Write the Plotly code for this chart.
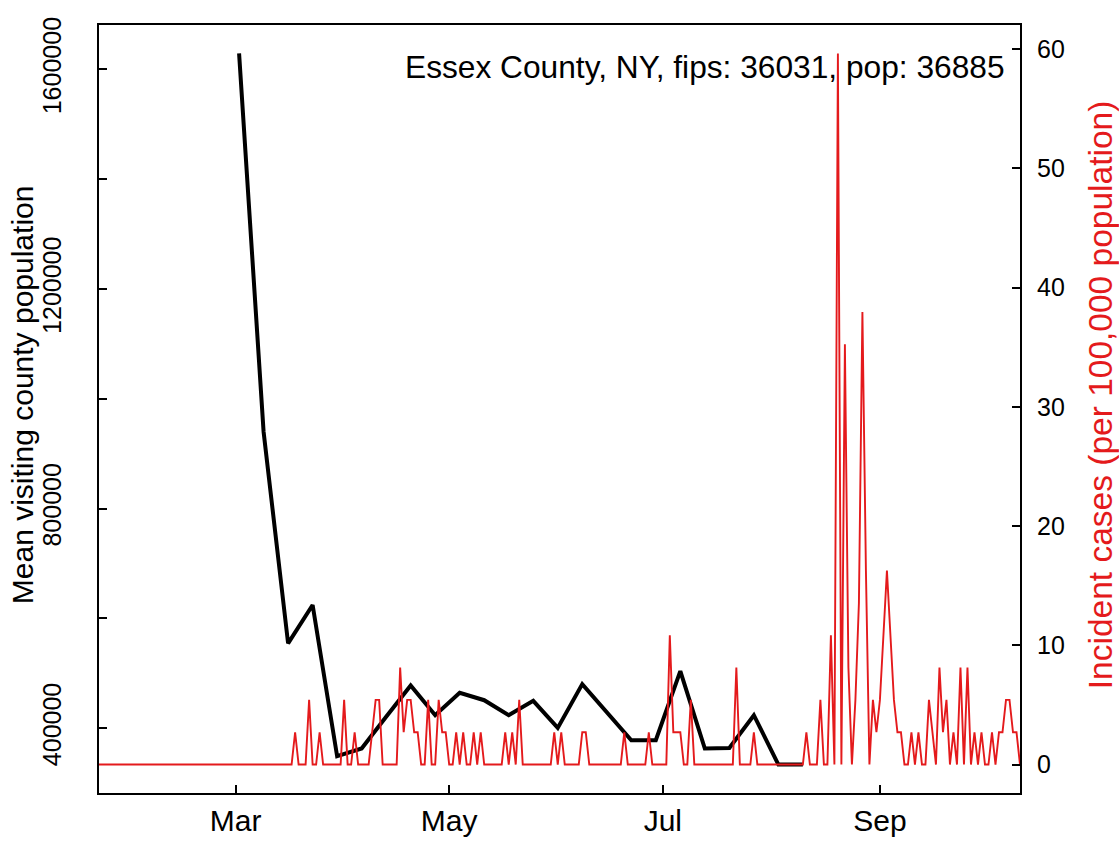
import plotly.graph_objects as go
import pandas as pd

# ---------------- data ----------------
county_label = "Essex County, NY, fips: 36031, pop: 36885"
population = 36885

# weekly mean visiting county population (black line)
week_dates = ["2020-03-02", "2020-03-09", "2020-03-16", "2020-03-23", "2020-03-30",
              "2020-04-06", "2020-04-13", "2020-04-20", "2020-04-27", "2020-05-04",
              "2020-05-11", "2020-05-18", "2020-05-25", "2020-06-01", "2020-06-08",
              "2020-06-15", "2020-06-22", "2020-06-29", "2020-07-06", "2020-07-13",
              "2020-07-20", "2020-07-27", "2020-08-03", "2020-08-10"]
mean_visiting_pop = [1629000, 940000, 554500, 624400, 348900,
                     363000, 421000, 477900, 423700, 464400,
                     451000, 423700, 449800, 400500, 480300,
                     429700, 378100, 378100, 504000, 363000,
                     364100, 423700, 333800, 333800]

# daily incident case counts (red line), 2020-01-22 .. 2020-10-11
cases_start = "2020-01-22"
cases_jan = [0, 0, 0, 0, 0, 0, 0, 0, 0, 0]
cases_feb = [0, 0, 0, 0, 0, 0, 0, 0, 0, 0, 0, 0, 0, 0, 0, 0, 0, 0, 0, 0,
             0, 0, 0, 0, 0, 0, 0, 0, 0]
cases_mar = [0, 0, 0, 0, 0, 0, 0, 0, 0, 0, 0, 0, 0, 0, 0, 0, 0, 1, 0, 0,
             0, 2, 0, 0, 1, 0, 0, 0, 0, 0, 0]
cases_apr = [2, 0, 0, 1, 0, 0, 0, 0, 1, 2, 2, 0, 0, 0, 0, 0, 3, 1, 2, 2,
             1, 1, 0, 0, 2, 0, 0, 2, 1, 1]
cases_may = [0, 0, 1, 0, 1, 0, 0, 1, 0, 1, 0, 0, 0, 0, 0, 0, 1, 0, 1, 0,
             2, 0, 0, 0, 0, 0, 0, 0, 0, 0, 1]
cases_jun = [0, 1, 0, 0, 0, 0, 0, 1, 1, 0, 0, 0, 0, 0, 0, 0, 0, 0, 0, 1,
             0, 0, 0, 0, 0, 0, 1, 0, 0, 0]
cases_jul = [0, 0, 4, 1, 1, 1, 0, 0, 2, 0, 0, 0, 0, 0, 0, 0, 0, 0, 0, 0,
             0, 3, 0, 0, 0, 0, 1, 0, 0, 0, 0]
cases_aug = [0, 0, 0, 0, 0, 0, 0, 0, 0, 0, 1, 0, 0, 0, 2, 0, 0, 4, 0, 22,
             0, 13, 3, 0, 2, 5, 14, 6, 0, 2, 1]
cases_sep = [2, 4, 6, 4, 2, 1, 1, 0, 0, 1, 0, 1, 0, 0, 2, 1, 0, 3, 1, 2,
             0, 1, 0, 3, 0, 3, 0, 1, 0, 1]
cases_oct = [0, 0, 1, 0, 1, 1, 2, 2, 1, 1, 0]

# axis ticks
x_tick_dates = ["2020-03-01", "2020-05-01", "2020-07-01", "2020-09-01"]
x_tick_labels = ["Mar", "May", "Jul", "Sep"]
left_tick_vals = [400000, 600000, 800000, 1000000, 1200000, 1400000, 1600000]
left_tick_text = ["400000", "", "800000", "", "1200000", "", "1600000"]
right_tick_vals = [0, 10, 20, 30, 40, 50, 60]

# ---------------- derived ----------------
daily_cases = (cases_jan + cases_feb + cases_mar + cases_apr + cases_may +
               cases_jun + cases_jul + cases_aug + cases_sep + cases_oct)
case_dates = pd.date_range(cases_start, periods=len(daily_cases), freq="D")
incidence = [c * 100000.0 / population for c in daily_cases]

def padded(lo, hi, frac=0.04):
    r = hi - lo
    return [lo - frac * r, hi + frac * r]

y_range = padded(min(mean_visiting_pop), max(mean_visiting_pop))
y2_range = padded(min(incidence), max(incidence))
x_range = [case_dates[0], case_dates[-1]]

RED = "#E41A1C"
FONT = "Liberation Sans, Arial, Helvetica, sans-serif"

fig = go.Figure()
fig.add_trace(go.Scatter(x=pd.to_datetime(week_dates), y=mean_visiting_pop,
                         mode="lines", line=dict(color="black", width=4),
                         showlegend=False, yaxis="y"))
fig.add_trace(go.Scatter(x=case_dates, y=incidence, mode="lines",
                         line=dict(color=RED, width=1.9),
                         showlegend=False, yaxis="y2"))

fig.update_layout(
    width=1119, height=842, autosize=False,
    margin=dict(l=99, r=99, t=25, b=49, pad=0, autoexpand=False),
    paper_bgcolor="white", plot_bgcolor="white",
    font=dict(family=FONT, color="black"),
    xaxis=dict(range=x_range, tickmode="array", tickvals=pd.to_datetime(x_tick_dates),
               ticktext=x_tick_labels, ticks="inside", ticklen=8, tickwidth=2,
               tickcolor="black", showline=True, linecolor="black", linewidth=2,
               mirror=True, showgrid=False, zeroline=False, automargin=False,
               tickfont=dict(size=30, family=FONT), ticklabelstandoff=0),
    yaxis=dict(range=y_range, tickmode="array", tickvals=left_tick_vals,
               ticktext=left_tick_text, tickangle=-90, ticks="inside", ticklen=8,
               tickwidth=2, tickcolor="black", showline=True, linecolor="black",
               linewidth=2, showgrid=False, zeroline=False, automargin=False,
               tickfont=dict(size=25, family=FONT), ticklabelstandoff=26),
    yaxis2=dict(range=y2_range, overlaying="y", side="right", tickmode="array",
                tickvals=right_tick_vals, ticks="inside", ticklen=8, tickwidth=2,
                tickcolor="black", showline=True, linecolor="black", linewidth=2,
                showgrid=False, zeroline=False, automargin=False,
                tickfont=dict(size=25, family=FONT), ticklabelstandoff=10),
    annotations=[
        dict(text=county_label, xref="paper", yref="paper", x=0.9859, y=0.9453,
             xanchor="right", yanchor="middle", showarrow=False,
             font=dict(size=31.7, family=FONT, color="black")),
        dict(text="Mean visiting county population", xref="paper", yref="paper",
             x=-0.0836, y=0.518, xanchor="center", yanchor="middle", textangle=-90,
             showarrow=False, font=dict(size=30, family=FONT, color="black")),
        dict(text="Incident cases (per 100,000 population)", xref="paper", yref="paper",
             x=1.0869, y=0.518, xanchor="center", yanchor="middle", textangle=-90,
             showarrow=False, font=dict(size=33.5, family=FONT, color=RED)),
    ],
)

fig.write_html("out.html",
               config={"displayModeBar": False},
               post_script="document.body.style.margin='0px';"
                           "document.body.style.overflow='hidden';")
